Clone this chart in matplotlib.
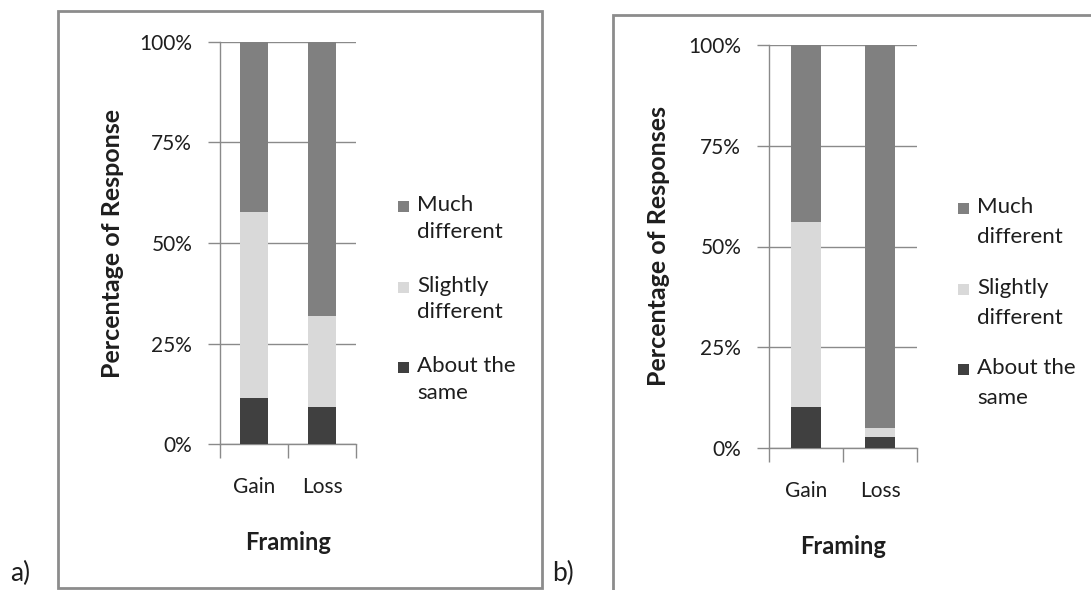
import matplotlib
matplotlib.use("Agg")
import matplotlib.pyplot as plt
from matplotlib.patches import Rectangle
from matplotlib.ticker import FixedLocator, FuncFormatter

plt.rcParams['font.family'] = ['Lato', 'DejaVu Sans']

categories = ["Gain", "Loss"]
series_names = ["About the\nsame", "Slightly\ndifferent", "Much\ndifferent"]
colors = ["#404040", "#d9d9d9", "#808080"]

a_same = [11.4, 9.2]
a_slight = [46.3, 22.6]
a_much = [42.3, 68.2]

b_same = [10.2, 2.7]
b_slight = [45.9, 2.3]
b_much = [43.9, 95.0]

yticks = [0, 25, 50, 75, 100]

W, H = 1091, 590
fig = plt.figure(figsize=(W / 100, H / 100), dpi=100)
fig.patch.set_facecolor("white")


def rect(x0, y0, x1, y1):
    return [x0 / W, 1 - y1 / H, (x1 - x0) / W, (y1 - y0) / H]


def fx(px):
    return px / W


def fy(py):
    return 1 - py / H


GRID = "#8a8a8a"
TXT = "#1e1e1e"
FS = 15
FSB = 17


def legend(text_x, first_y, pitch, line_gap):
    # entries from top to bottom: reverse of stacking order
    for i, (name, c) in enumerate(zip(series_names[::-1], colors[::-1])):
        y = first_y + i * pitch
        fig.patches.append(Rectangle((fx(text_x - 19), fy(y + 7)), 11 / W, 11 / H,
                                     transform=fig.transFigure, facecolor=c,
                                     edgecolor='none'))
        for j, line in enumerate(name.split("\n")):
            fig.text(fx(text_x), fy(y + j * line_gap), line, fontsize=16,
                     ha='left', va='center', color=TXT)


def panel(r, data, ylabel, ylabel_x):
    ax = fig.add_axes(rect(*r))
    x = list(range(len(categories)))
    bottom = [0] * len(categories)
    for vals, c in zip(data, colors):
        ax.bar(x, vals, bottom=bottom, width=0.41, color=c, zorder=3)
        bottom = [b + v for b, v in zip(bottom, vals)]
    ax.set_xlim(-0.5, len(categories) - 0.5)
    ax.set_ylim(0, 100)
    ax.yaxis.set_major_locator(FixedLocator(yticks))
    ax.yaxis.set_major_formatter(FuncFormatter(lambda v, p: f"{int(v)}%"))
    ax.set_xticks(x)
    ax.set_xticklabels(categories, fontsize=FS, color=TXT)
    ax.set_xticks([i - 0.5 for i in range(len(categories) + 1)], minor=True)
    ax.tick_params(axis='x', which='major', length=0, pad=24)
    ax.tick_params(axis='x', which='minor', length=10, color=GRID, width=1)
    ax.tick_params(axis='y', length=9, color=GRID, width=1, labelsize=FS,
                   labelcolor=TXT, pad=11)
    ax.grid(axis='y', color=GRID, linewidth=1, zorder=0)
    for s in ['top', 'right']:
        ax.spines[s].set_visible(False)
    for s in ['left', 'bottom']:
        ax.spines[s].set_color(GRID)
        ax.spines[s].set_linewidth(1)
    ax.set_xlabel("Framing", fontsize=FSB, fontweight='bold', labelpad=24, color=TXT)
    ax.set_ylabel(ylabel, fontsize=FSB + 1, fontweight='bold', color=TXT)
    ax.yaxis.set_label_coords((ylabel_x - r[0]) / (r[2] - r[0]), 0.5)
    return ax


panel((220, 42, 356, 444), [a_same, a_slight, a_much], "Percentage of Response", 124)
legend(417, 205, 80.5, 27)
panel((769, 45, 917, 448), [b_same, b_slight, b_much], "Percentage of Responses", 670)
legend(977, 207, 80.5, 30)

# panel borders
fig.patches.append(Rectangle((58 / W, 1 - 588 / H), (542 - 58) / W, (588 - 11) / H,
                             transform=fig.transFigure, fill=False,
                             edgecolor="#8c8c8c", linewidth=2))
fig.patches.append(Rectangle((613 / W, 1 - 600 / H), (1100 - 613) / W, (600 - 15) / H,
                             transform=fig.transFigure, fill=False,
                             edgecolor="#8c8c8c", linewidth=2, clip_on=True))

fig.text(10 / W, 1 - 586 / H, "a)", fontsize=19, ha='left', va='bottom', color=TXT)
fig.text(552 / W, 1 - 586 / H, "b)", fontsize=19, ha='left', va='bottom', color=TXT)

fig.savefig("out.png", dpi=100, facecolor="white")
